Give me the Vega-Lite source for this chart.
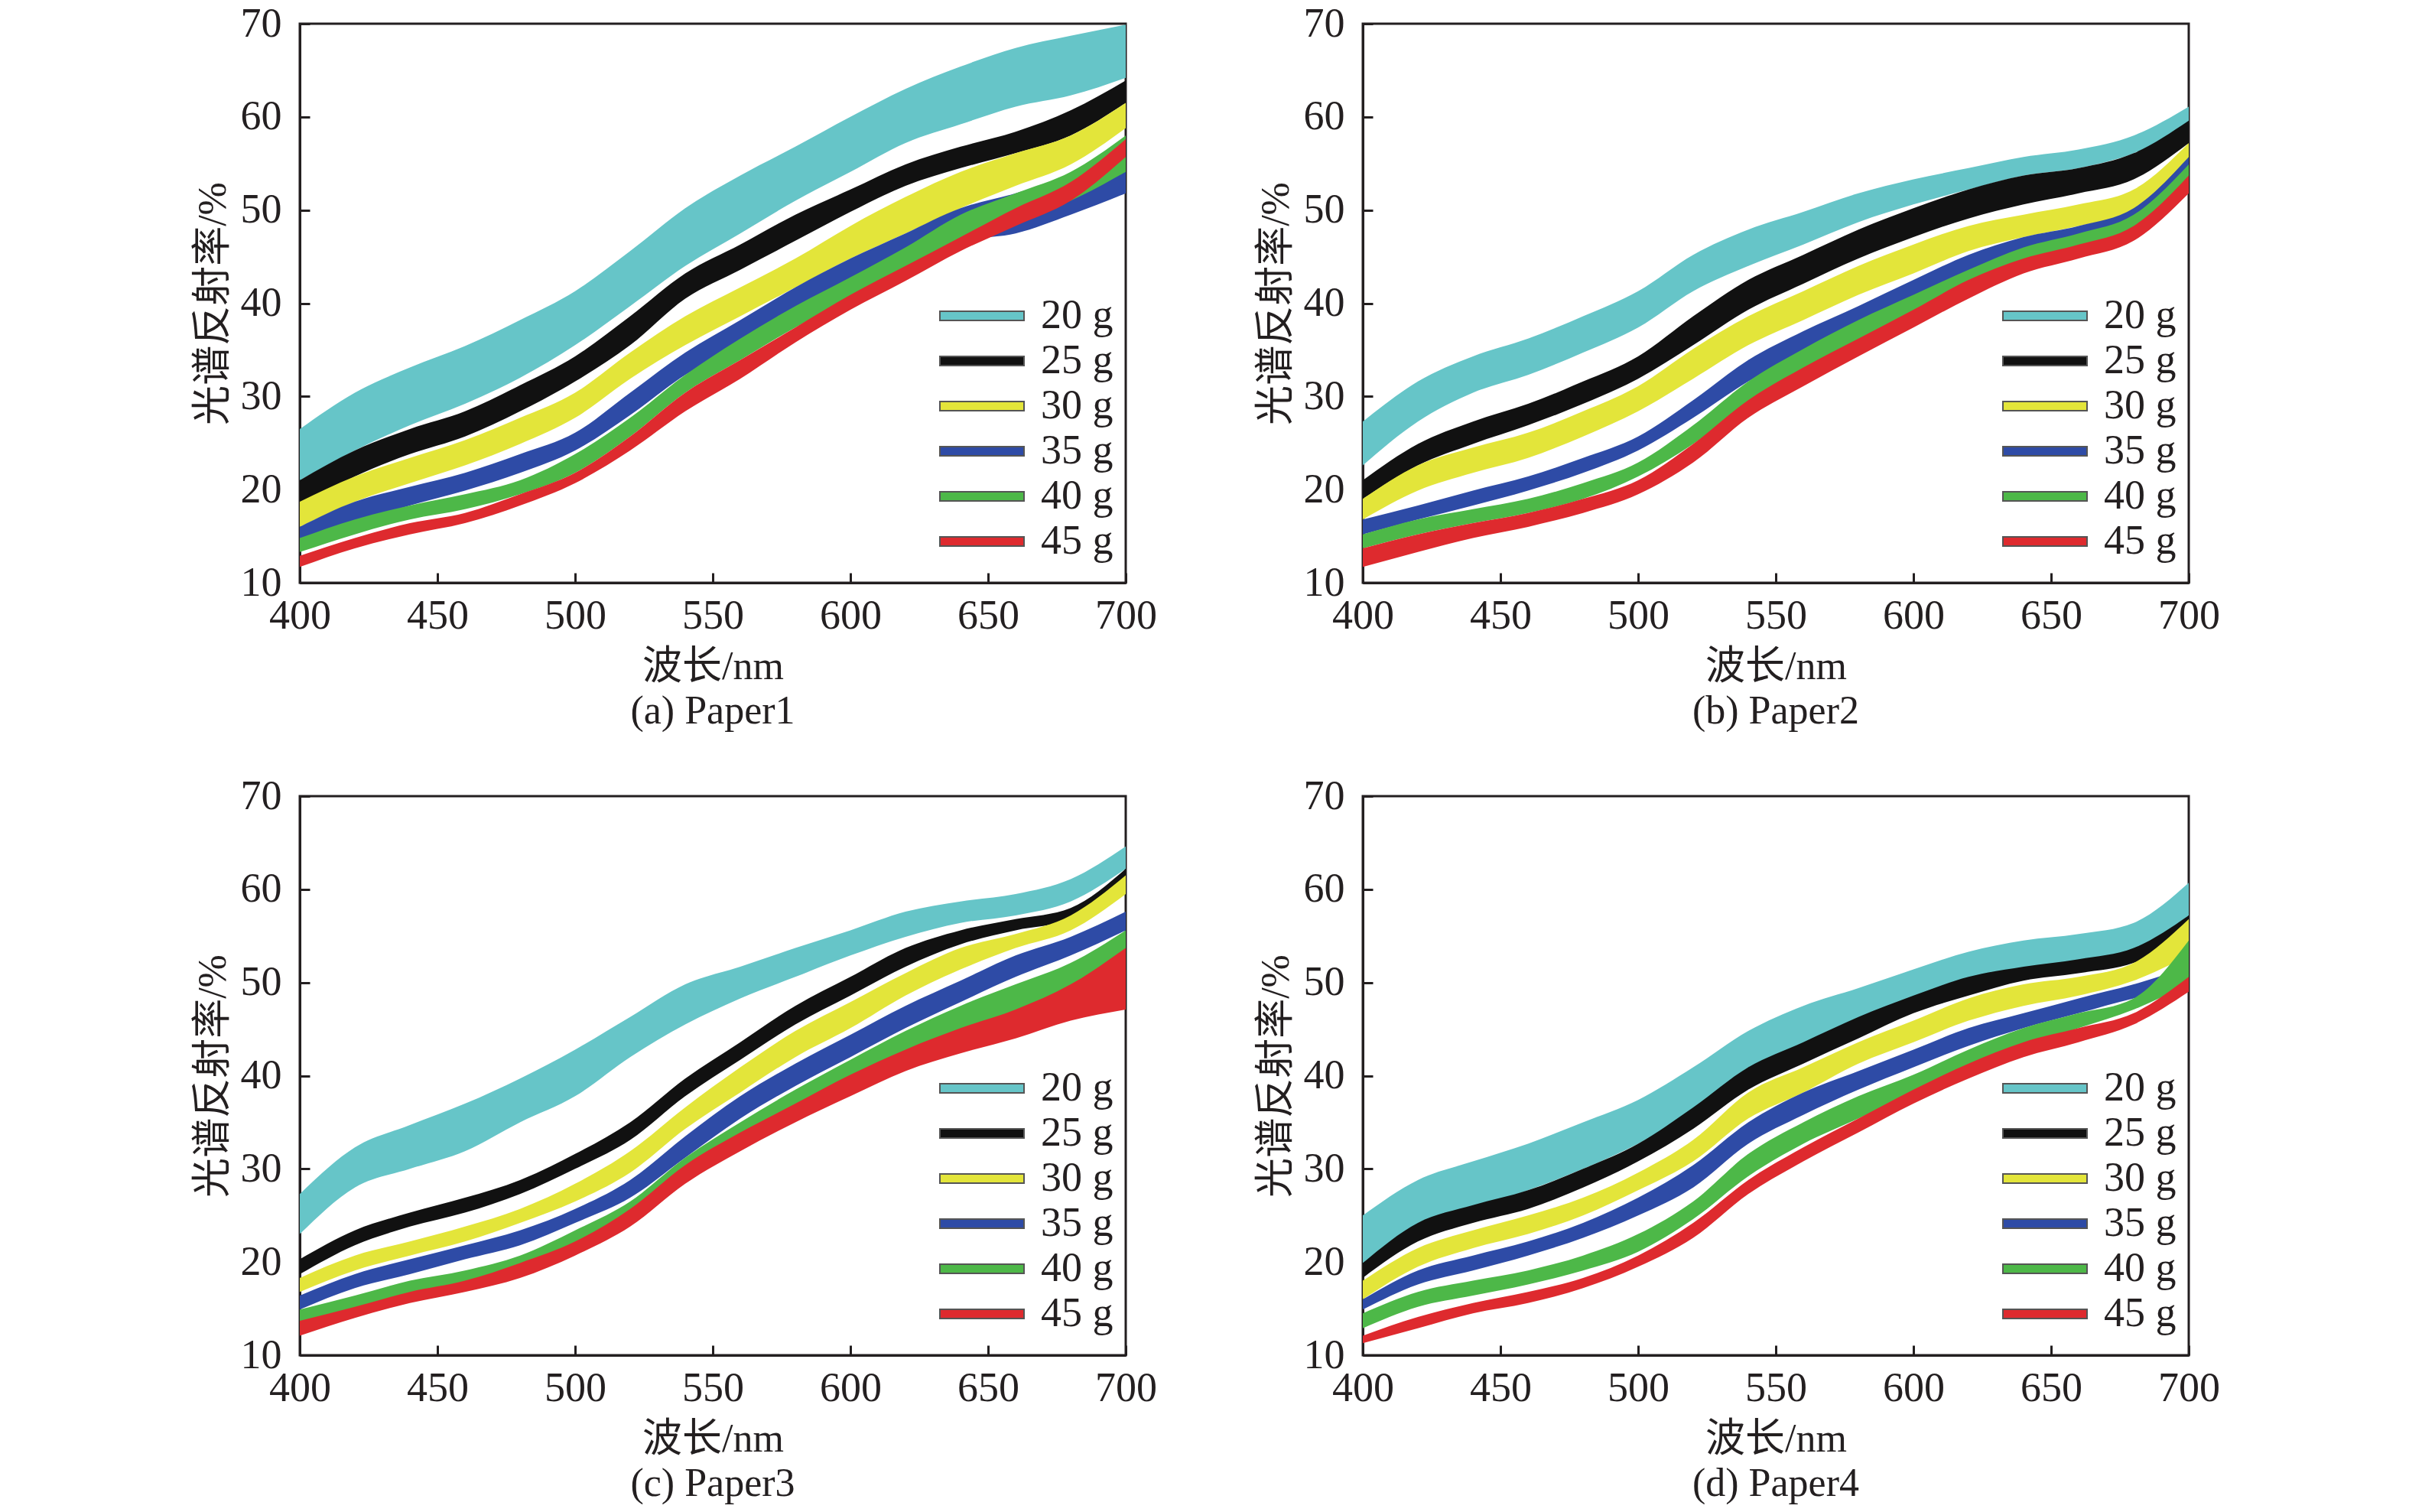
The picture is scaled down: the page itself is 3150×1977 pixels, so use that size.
{
  "$schema": "https://vega.github.io/schema/vega-lite/v6.json",
  "background": "white",
  "padding": {"left": 250, "top": 2, "right": 0, "bottom": 0},
  "datasets": {
    "bands": [
      {"p":"a","g":"20 g","x":400,"lo":21,"hi":26.5},{"p":"a","g":"20 g","x":420,"lo":24.2,"hi":30.4},{"p":"a","g":"20 g","x":440,"lo":26.9,"hi":33.1},{"p":"a","g":"20 g","x":460,"lo":29.2,"hi":35.4},{"p":"a","g":"20 g","x":480,"lo":32,"hi":38.2},{"p":"a","g":"20 g","x":500,"lo":35.5,"hi":41.3},{"p":"a","g":"20 g","x":520,"lo":39.7,"hi":45.6},{"p":"a","g":"20 g","x":540,"lo":44,"hi":50.2},{"p":"a","g":"20 g","x":560,"lo":47.5,"hi":53.7},{"p":"a","g":"20 g","x":580,"lo":51,"hi":56.8},{"p":"a","g":"20 g","x":600,"lo":54.1,"hi":60},{"p":"a","g":"20 g","x":620,"lo":57.2,"hi":63},{"p":"a","g":"20 g","x":640,"lo":59.2,"hi":65.4},{"p":"a","g":"20 g","x":660,"lo":61.1,"hi":67.4},{"p":"a","g":"20 g","x":680,"lo":62.3,"hi":68.7},{"p":"a","g":"20 g","x":700,"lo":64.2,"hi":69.9},
      {"p":"a","g":"25 g","x":400,"lo":18,"hi":21},{"p":"a","g":"25 g","x":420,"lo":21.4,"hi":24.2},{"p":"a","g":"25 g","x":440,"lo":23.8,"hi":26.5},{"p":"a","g":"25 g","x":460,"lo":25.7,"hi":28.4},{"p":"a","g":"25 g","x":480,"lo":28.4,"hi":31.2},{"p":"a","g":"25 g","x":500,"lo":31.6,"hi":34.3},{"p":"a","g":"25 g","x":520,"lo":35.5,"hi":38.6},{"p":"a","g":"25 g","x":540,"lo":40.5,"hi":43.2},{"p":"a","g":"25 g","x":560,"lo":43.6,"hi":46.3},{"p":"a","g":"25 g","x":580,"lo":46.7,"hi":49.5},{"p":"a","g":"25 g","x":600,"lo":49.8,"hi":52.2},{"p":"a","g":"25 g","x":620,"lo":52.6,"hi":54.9},{"p":"a","g":"25 g","x":640,"lo":54.5,"hi":56.8},{"p":"a","g":"25 g","x":660,"lo":56.1,"hi":58.4},{"p":"a","g":"25 g","x":680,"lo":58,"hi":60.7},{"p":"a","g":"25 g","x":700,"lo":61.5,"hi":63.9},
      {"p":"a","g":"30 g","x":400,"lo":16,"hi":18.7},{"p":"a","g":"30 g","x":420,"lo":18.7,"hi":21.4},{"p":"a","g":"30 g","x":440,"lo":20.7,"hi":23.4},{"p":"a","g":"30 g","x":460,"lo":22.6,"hi":25.3},{"p":"a","g":"30 g","x":480,"lo":24.9,"hi":27.7},{"p":"a","g":"30 g","x":500,"lo":27.7,"hi":30.4},{"p":"a","g":"30 g","x":520,"lo":31.9,"hi":34.7},{"p":"a","g":"30 g","x":540,"lo":35.5,"hi":38.6},{"p":"a","g":"30 g","x":560,"lo":38.6,"hi":41.7},{"p":"a","g":"30 g","x":580,"lo":41.7,"hi":44.8},{"p":"a","g":"30 g","x":600,"lo":44.8,"hi":48.3},{"p":"a","g":"30 g","x":620,"lo":47.5,"hi":51.4},{"p":"a","g":"30 g","x":640,"lo":50.2,"hi":54.1},{"p":"a","g":"30 g","x":660,"lo":52.6,"hi":56.1},{"p":"a","g":"30 g","x":680,"lo":54.9,"hi":58},{"p":"a","g":"30 g","x":700,"lo":58.8,"hi":61.5},
      {"p":"a","g":"35 g","x":400,"lo":14.4,"hi":16},{"p":"a","g":"35 g","x":420,"lo":16.4,"hi":18.7},{"p":"a","g":"35 g","x":440,"lo":18.3,"hi":20.3},{"p":"a","g":"35 g","x":460,"lo":19.9,"hi":21.8},{"p":"a","g":"35 g","x":480,"lo":21.8,"hi":23.8},{"p":"a","g":"35 g","x":500,"lo":24.2,"hi":26.1},{"p":"a","g":"35 g","x":520,"lo":28,"hi":30.4},{"p":"a","g":"35 g","x":540,"lo":32.3,"hi":34.7},{"p":"a","g":"35 g","x":560,"lo":35.5,"hi":38.2},{"p":"a","g":"35 g","x":580,"lo":39,"hi":41.7},{"p":"a","g":"35 g","x":600,"lo":42.1,"hi":44.8},{"p":"a","g":"35 g","x":620,"lo":44.8,"hi":47.5},{"p":"a","g":"35 g","x":640,"lo":46.7,"hi":50.2},{"p":"a","g":"35 g","x":660,"lo":47.5,"hi":51.8},{"p":"a","g":"35 g","x":680,"lo":49.5,"hi":53.7},{"p":"a","g":"35 g","x":700,"lo":51.8,"hi":56.8},
      {"p":"a","g":"40 g","x":400,"lo":13.3,"hi":14.8},{"p":"a","g":"40 g","x":420,"lo":15.2,"hi":16.8},{"p":"a","g":"40 g","x":440,"lo":16.8,"hi":18.3},{"p":"a","g":"40 g","x":460,"lo":17.9,"hi":19.5},{"p":"a","g":"40 g","x":480,"lo":19.5,"hi":21},{"p":"a","g":"40 g","x":500,"lo":21.8,"hi":23.8},{"p":"a","g":"40 g","x":520,"lo":25.7,"hi":27.7},{"p":"a","g":"40 g","x":540,"lo":30.4,"hi":32.3},{"p":"a","g":"40 g","x":560,"lo":33.9,"hi":36.2},{"p":"a","g":"40 g","x":580,"lo":37.4,"hi":39.7},{"p":"a","g":"40 g","x":600,"lo":40.5,"hi":42.8},{"p":"a","g":"40 g","x":620,"lo":43.2,"hi":46},{"p":"a","g":"40 g","x":640,"lo":46.3,"hi":49.5},{"p":"a","g":"40 g","x":660,"lo":48.7,"hi":51.8},{"p":"a","g":"40 g","x":680,"lo":51,"hi":54.1},{"p":"a","g":"40 g","x":700,"lo":54.1,"hi":58},
      {"p":"a","g":"45 g","x":400,"lo":11.7,"hi":12.9},{"p":"a","g":"45 g","x":420,"lo":13.7,"hi":14.8},{"p":"a","g":"45 g","x":440,"lo":15.2,"hi":16.4},{"p":"a","g":"45 g","x":460,"lo":16.4,"hi":17.5},{"p":"a","g":"45 g","x":480,"lo":18.3,"hi":19.5},{"p":"a","g":"45 g","x":500,"lo":20.7,"hi":21.8},{"p":"a","g":"45 g","x":520,"lo":24.2,"hi":25.7},{"p":"a","g":"45 g","x":540,"lo":28.4,"hi":30.4},{"p":"a","g":"45 g","x":560,"lo":31.9,"hi":33.9},{"p":"a","g":"45 g","x":580,"lo":35.8,"hi":37.4},{"p":"a","g":"45 g","x":600,"lo":39.3,"hi":40.9},{"p":"a","g":"45 g","x":620,"lo":42.4,"hi":44},{"p":"a","g":"45 g","x":640,"lo":45.6,"hi":47.1},{"p":"a","g":"45 g","x":660,"lo":48.3,"hi":50.2},{"p":"a","g":"45 g","x":680,"lo":51,"hi":53},{"p":"a","g":"45 g","x":700,"lo":55.7,"hi":57.6},

      {"p":"b","g":"20 g","x":400,"lo":22.6,"hi":27.3},{"p":"b","g":"20 g","x":420,"lo":27.3,"hi":31.6},{"p":"b","g":"20 g","x":440,"lo":30.4,"hi":34.3},{"p":"b","g":"20 g","x":460,"lo":32.3,"hi":36.2},{"p":"b","g":"20 g","x":480,"lo":34.7,"hi":38.6},{"p":"b","g":"20 g","x":500,"lo":37.4,"hi":41.3},{"p":"b","g":"20 g","x":520,"lo":41.3,"hi":45.2},{"p":"b","g":"20 g","x":540,"lo":44,"hi":47.9},{"p":"b","g":"20 g","x":560,"lo":46.3,"hi":49.8},{"p":"b","g":"20 g","x":580,"lo":48.7,"hi":51.8},{"p":"b","g":"20 g","x":600,"lo":50.6,"hi":53.3},{"p":"b","g":"20 g","x":620,"lo":52.2,"hi":54.5},{"p":"b","g":"20 g","x":640,"lo":53.7,"hi":55.7},{"p":"b","g":"20 g","x":660,"lo":54.5,"hi":56.5},{"p":"b","g":"20 g","x":680,"lo":56.1,"hi":58},{"p":"b","g":"20 g","x":700,"lo":59.2,"hi":61.1},
      {"p":"b","g":"25 g","x":400,"lo":19,"hi":21},{"p":"b","g":"25 g","x":420,"lo":22.6,"hi":24.9},{"p":"b","g":"25 g","x":440,"lo":24.9,"hi":27.3},{"p":"b","g":"25 g","x":460,"lo":26.9,"hi":29.2},{"p":"b","g":"25 g","x":480,"lo":29.2,"hi":31.6},{"p":"b","g":"25 g","x":500,"lo":31.9,"hi":34.3},{"p":"b","g":"25 g","x":520,"lo":35.5,"hi":38.6},{"p":"b","g":"25 g","x":540,"lo":39.3,"hi":42.5},{"p":"b","g":"25 g","x":560,"lo":42.1,"hi":45.2},{"p":"b","g":"25 g","x":580,"lo":44.8,"hi":47.9},{"p":"b","g":"25 g","x":600,"lo":47.1,"hi":50.2},{"p":"b","g":"25 g","x":620,"lo":49.1,"hi":52.2},{"p":"b","g":"25 g","x":640,"lo":50.6,"hi":53.7},{"p":"b","g":"25 g","x":660,"lo":51.8,"hi":54.5},{"p":"b","g":"25 g","x":680,"lo":53.3,"hi":56.1},{"p":"b","g":"25 g","x":700,"lo":57.2,"hi":59.6},
      {"p":"b","g":"30 g","x":400,"lo":16.8,"hi":19},{"p":"b","g":"30 g","x":420,"lo":19.9,"hi":22.6},{"p":"b","g":"30 g","x":440,"lo":21.8,"hi":24.5},{"p":"b","g":"30 g","x":460,"lo":23.4,"hi":26.1},{"p":"b","g":"30 g","x":480,"lo":25.7,"hi":28.4},{"p":"b","g":"30 g","x":500,"lo":28.4,"hi":31.1},{"p":"b","g":"30 g","x":520,"lo":31.9,"hi":35.1},{"p":"b","g":"30 g","x":540,"lo":35.5,"hi":38.6},{"p":"b","g":"30 g","x":560,"lo":38.2,"hi":41.3},{"p":"b","g":"30 g","x":580,"lo":40.9,"hi":44},{"p":"b","g":"30 g","x":600,"lo":43.2,"hi":46.3},{"p":"b","g":"30 g","x":620,"lo":45.6,"hi":48.3},{"p":"b","g":"30 g","x":640,"lo":47.1,"hi":49.5},{"p":"b","g":"30 g","x":660,"lo":48.3,"hi":50.6},{"p":"b","g":"30 g","x":680,"lo":49.8,"hi":52.2},{"p":"b","g":"30 g","x":700,"lo":54.1,"hi":57.2},
      {"p":"b","g":"35 g","x":400,"lo":15.2,"hi":16.8},{"p":"b","g":"35 g","x":420,"lo":16.8,"hi":18.3},{"p":"b","g":"35 g","x":440,"lo":18.3,"hi":19.9},{"p":"b","g":"35 g","x":460,"lo":19.9,"hi":21.4},{"p":"b","g":"35 g","x":480,"lo":21.8,"hi":23.4},{"p":"b","g":"35 g","x":500,"lo":24.2,"hi":25.7},{"p":"b","g":"35 g","x":520,"lo":27.7,"hi":29.6},{"p":"b","g":"35 g","x":540,"lo":31.6,"hi":33.9},{"p":"b","g":"35 g","x":560,"lo":34.7,"hi":37},{"p":"b","g":"35 g","x":580,"lo":37.8,"hi":39.7},{"p":"b","g":"35 g","x":600,"lo":40.5,"hi":42.5},{"p":"b","g":"35 g","x":620,"lo":43.2,"hi":45.2},{"p":"b","g":"35 g","x":640,"lo":45.6,"hi":47.1},{"p":"b","g":"35 g","x":660,"lo":46.7,"hi":48.3},{"p":"b","g":"35 g","x":680,"lo":48.7,"hi":50.2},{"p":"b","g":"35 g","x":700,"lo":53.7,"hi":55.7},
      {"p":"b","g":"40 g","x":400,"lo":13.7,"hi":15.2},{"p":"b","g":"40 g","x":420,"lo":15.2,"hi":16.8},{"p":"b","g":"40 g","x":440,"lo":16.4,"hi":17.9},{"p":"b","g":"40 g","x":460,"lo":17.5,"hi":19},{"p":"b","g":"40 g","x":480,"lo":19,"hi":20.7},{"p":"b","g":"40 g","x":500,"lo":21.4,"hi":22.9},{"p":"b","g":"40 g","x":520,"lo":24.9,"hi":26.9},{"p":"b","g":"40 g","x":540,"lo":29.2,"hi":31.6},{"p":"b","g":"40 g","x":560,"lo":32.7,"hi":35.1},{"p":"b","g":"40 g","x":580,"lo":35.8,"hi":38.2},{"p":"b","g":"40 g","x":600,"lo":39,"hi":40.9},{"p":"b","g":"40 g","x":620,"lo":41.7,"hi":43.6},{"p":"b","g":"40 g","x":640,"lo":44.4,"hi":46},{"p":"b","g":"40 g","x":660,"lo":46,"hi":47.5},{"p":"b","g":"40 g","x":680,"lo":47.9,"hi":49.5},{"p":"b","g":"40 g","x":700,"lo":53,"hi":54.9},
      {"p":"b","g":"45 g","x":400,"lo":11.7,"hi":13.7},{"p":"b","g":"45 g","x":420,"lo":13.3,"hi":15.2},{"p":"b","g":"45 g","x":440,"lo":14.8,"hi":16.4},{"p":"b","g":"45 g","x":460,"lo":16,"hi":17.5},{"p":"b","g":"45 g","x":480,"lo":17.5,"hi":19},{"p":"b","g":"45 g","x":500,"lo":19.5,"hi":21},{"p":"b","g":"45 g","x":520,"lo":22.9,"hi":24.9},{"p":"b","g":"45 g","x":540,"lo":27.7,"hi":29.6},{"p":"b","g":"45 g","x":560,"lo":31.1,"hi":33.1},{"p":"b","g":"45 g","x":580,"lo":34.3,"hi":36.2},{"p":"b","g":"45 g","x":600,"lo":37.4,"hi":39.3},{"p":"b","g":"45 g","x":620,"lo":40.5,"hi":42.5},{"p":"b","g":"45 g","x":640,"lo":43.2,"hi":44.8},{"p":"b","g":"45 g","x":660,"lo":44.8,"hi":46.3},{"p":"b","g":"45 g","x":680,"lo":46.7,"hi":48.3},{"p":"b","g":"45 g","x":700,"lo":51.8,"hi":53.7},

      {"p":"c","g":"20 g","x":400,"lo":23,"hi":27.3},{"p":"c","g":"20 g","x":420,"lo":28,"hi":32.3},{"p":"c","g":"20 g","x":440,"lo":30,"hi":34.7},{"p":"c","g":"20 g","x":460,"lo":31.9,"hi":37},{"p":"c","g":"20 g","x":480,"lo":35,"hi":39.7},{"p":"c","g":"20 g","x":500,"lo":37.8,"hi":42.8},{"p":"c","g":"20 g","x":520,"lo":42,"hi":46.3},{"p":"c","g":"20 g","x":540,"lo":45.5,"hi":49.8},{"p":"c","g":"20 g","x":560,"lo":48.3,"hi":51.7},{"p":"c","g":"20 g","x":580,"lo":50.6,"hi":53.7},{"p":"c","g":"20 g","x":600,"lo":52.9,"hi":55.6},{"p":"c","g":"20 g","x":620,"lo":54.9,"hi":57.6},{"p":"c","g":"20 g","x":640,"lo":56.4,"hi":58.7},{"p":"c","g":"20 g","x":660,"lo":57.2,"hi":59.5},{"p":"c","g":"20 g","x":680,"lo":58.7,"hi":61.1},{"p":"c","g":"20 g","x":700,"lo":62.2,"hi":64.6},
      {"p":"c","g":"25 g","x":400,"lo":18.7,"hi":20.3},{"p":"c","g":"25 g","x":420,"lo":21.8,"hi":23.4},{"p":"c","g":"25 g","x":440,"lo":23.8,"hi":25.3},{"p":"c","g":"25 g","x":460,"lo":25.3,"hi":26.9},{"p":"c","g":"25 g","x":480,"lo":27.3,"hi":28.8},{"p":"c","g":"25 g","x":500,"lo":30,"hi":31.6},{"p":"c","g":"25 g","x":520,"lo":33.1,"hi":35},{"p":"c","g":"25 g","x":540,"lo":37.8,"hi":39.7},{"p":"c","g":"25 g","x":560,"lo":41.7,"hi":43.6},{"p":"c","g":"25 g","x":580,"lo":45.5,"hi":47.5},{"p":"c","g":"25 g","x":600,"lo":48.6,"hi":50.6},{"p":"c","g":"25 g","x":620,"lo":51.7,"hi":53.7},{"p":"c","g":"25 g","x":640,"lo":54.1,"hi":55.6},{"p":"c","g":"25 g","x":660,"lo":55.6,"hi":56.8},{"p":"c","g":"25 g","x":680,"lo":56.8,"hi":58},{"p":"c","g":"25 g","x":700,"lo":60.7,"hi":62.2},
      {"p":"c","g":"30 g","x":400,"lo":16.8,"hi":18.3},{"p":"c","g":"30 g","x":420,"lo":19.1,"hi":20.7},{"p":"c","g":"30 g","x":440,"lo":20.7,"hi":22.2},{"p":"c","g":"30 g","x":460,"lo":22.2,"hi":23.8},{"p":"c","g":"30 g","x":480,"lo":24.2,"hi":25.7},{"p":"c","g":"30 g","x":500,"lo":26.5,"hi":28.4},{"p":"c","g":"30 g","x":520,"lo":29.6,"hi":31.9},{"p":"c","g":"30 g","x":540,"lo":34.3,"hi":36.6},{"p":"c","g":"30 g","x":560,"lo":38.2,"hi":40.9},{"p":"c","g":"30 g","x":580,"lo":42,"hi":44.8},{"p":"c","g":"30 g","x":600,"lo":45.1,"hi":47.9},{"p":"c","g":"30 g","x":620,"lo":48.6,"hi":51},{"p":"c","g":"30 g","x":640,"lo":51.4,"hi":53.7},{"p":"c","g":"30 g","x":660,"lo":53.7,"hi":55.2},{"p":"c","g":"30 g","x":680,"lo":55.6,"hi":57.2},{"p":"c","g":"30 g","x":700,"lo":59.5,"hi":61.5},
      {"p":"c","g":"35 g","x":400,"lo":14.9,"hi":16.4},{"p":"c","g":"35 g","x":420,"lo":17.2,"hi":18.7},{"p":"c","g":"35 g","x":440,"lo":18.7,"hi":20.3},{"p":"c","g":"35 g","x":460,"lo":20.3,"hi":21.8},{"p":"c","g":"35 g","x":480,"lo":21.8,"hi":23.4},{"p":"c","g":"35 g","x":500,"lo":24.2,"hi":25.7},{"p":"c","g":"35 g","x":520,"lo":26.9,"hi":28.8},{"p":"c","g":"35 g","x":540,"lo":31.2,"hi":33.5},{"p":"c","g":"35 g","x":560,"lo":35.4,"hi":37.8},{"p":"c","g":"35 g","x":580,"lo":38.9,"hi":41.3},{"p":"c","g":"35 g","x":600,"lo":42,"hi":44.4},{"p":"c","g":"35 g","x":620,"lo":45.1,"hi":47.5},{"p":"c","g":"35 g","x":640,"lo":47.9,"hi":50.2},{"p":"c","g":"35 g","x":660,"lo":50.6,"hi":52.9},{"p":"c","g":"35 g","x":680,"lo":52.9,"hi":54.9},{"p":"c","g":"35 g","x":700,"lo":55.6,"hi":57.6},
      {"p":"c","g":"40 g","x":400,"lo":13.3,"hi":14.9},{"p":"c","g":"40 g","x":420,"lo":14.9,"hi":16.4},{"p":"c","g":"40 g","x":440,"lo":16.4,"hi":18},{"p":"c","g":"40 g","x":460,"lo":17.6,"hi":19.1},{"p":"c","g":"40 g","x":480,"lo":19.1,"hi":20.7},{"p":"c","g":"40 g","x":500,"lo":21.5,"hi":23.4},{"p":"c","g":"40 g","x":520,"lo":24.6,"hi":26.5},{"p":"c","g":"40 g","x":540,"lo":28.8,"hi":31.2},{"p":"c","g":"40 g","x":560,"lo":32.3,"hi":35},{"p":"c","g":"40 g","x":580,"lo":35.4,"hi":38.5},{"p":"c","g":"40 g","x":600,"lo":38.5,"hi":41.7},{"p":"c","g":"40 g","x":620,"lo":41.7,"hi":44.8},{"p":"c","g":"40 g","x":640,"lo":44.4,"hi":47.5},{"p":"c","g":"40 g","x":660,"lo":46.7,"hi":49.8},{"p":"c","g":"40 g","x":680,"lo":49,"hi":52.1},{"p":"c","g":"40 g","x":700,"lo":52.1,"hi":55.6},
      {"p":"c","g":"45 g","x":400,"lo":12.1,"hi":13.7},{"p":"c","g":"45 g","x":420,"lo":14,"hi":15.2},{"p":"c","g":"45 g","x":440,"lo":15.6,"hi":16.8},{"p":"c","g":"45 g","x":460,"lo":16.8,"hi":18},{"p":"c","g":"45 g","x":480,"lo":18.3,"hi":19.9},{"p":"c","g":"45 g","x":500,"lo":20.7,"hi":22.2},{"p":"c","g":"45 g","x":520,"lo":23.8,"hi":25.7},{"p":"c","g":"45 g","x":540,"lo":28.4,"hi":30.4},{"p":"c","g":"45 g","x":560,"lo":31.9,"hi":33.9},{"p":"c","g":"45 g","x":580,"lo":35,"hi":37},{"p":"c","g":"45 g","x":600,"lo":37.8,"hi":40.1},{"p":"c","g":"45 g","x":620,"lo":40.5,"hi":42.8},{"p":"c","g":"45 g","x":640,"lo":42.4,"hi":45.1},{"p":"c","g":"45 g","x":660,"lo":44,"hi":47.1},{"p":"c","g":"45 g","x":680,"lo":45.9,"hi":49.8},{"p":"c","g":"45 g","x":700,"lo":47.1,"hi":53.7},

      {"p":"d","g":"20 g","x":400,"lo":19.9,"hi":25},{"p":"d","g":"20 g","x":420,"lo":23.4,"hi":28.8},{"p":"d","g":"20 g","x":440,"lo":25.7,"hi":30.8},{"p":"d","g":"20 g","x":460,"lo":27.7,"hi":32.7},{"p":"d","g":"20 g","x":480,"lo":30,"hi":35},{"p":"d","g":"20 g","x":500,"lo":32.7,"hi":37.4},{"p":"d","g":"20 g","x":520,"lo":36.2,"hi":40.9},{"p":"d","g":"20 g","x":540,"lo":40.1,"hi":44.8},{"p":"d","g":"20 g","x":560,"lo":43.2,"hi":47.5},{"p":"d","g":"20 g","x":580,"lo":45.5,"hi":49.4},{"p":"d","g":"20 g","x":600,"lo":47.5,"hi":51.4},{"p":"d","g":"20 g","x":620,"lo":49.4,"hi":53.3},{"p":"d","g":"20 g","x":640,"lo":51,"hi":54.5},{"p":"d","g":"20 g","x":660,"lo":51.7,"hi":55.2},{"p":"d","g":"20 g","x":680,"lo":53.3,"hi":56.4},{"p":"d","g":"20 g","x":700,"lo":57.2,"hi":60.7},
      {"p":"d","g":"25 g","x":400,"lo":18.3,"hi":19.9},{"p":"d","g":"25 g","x":420,"lo":22.2,"hi":24.2},{"p":"d","g":"25 g","x":440,"lo":24.2,"hi":26.1},{"p":"d","g":"25 g","x":460,"lo":25.7,"hi":27.7},{"p":"d","g":"25 g","x":480,"lo":28,"hi":30},{"p":"d","g":"25 g","x":500,"lo":30.8,"hi":32.7},{"p":"d","g":"25 g","x":520,"lo":34.3,"hi":36.6},{"p":"d","g":"25 g","x":540,"lo":38.5,"hi":40.9},{"p":"d","g":"25 g","x":560,"lo":41.3,"hi":43.6},{"p":"d","g":"25 g","x":580,"lo":44,"hi":46.3},{"p":"d","g":"25 g","x":600,"lo":46.7,"hi":48.6},{"p":"d","g":"25 g","x":620,"lo":48.6,"hi":50.6},{"p":"d","g":"25 g","x":640,"lo":50.2,"hi":51.7},{"p":"d","g":"25 g","x":660,"lo":51,"hi":52.5},{"p":"d","g":"25 g","x":680,"lo":52.1,"hi":53.7},{"p":"d","g":"25 g","x":700,"lo":55.2,"hi":57.2},
      {"p":"d","g":"30 g","x":400,"lo":16,"hi":18},{"p":"d","g":"30 g","x":420,"lo":19.5,"hi":21.5},{"p":"d","g":"30 g","x":440,"lo":21.5,"hi":23.4},{"p":"d","g":"30 g","x":460,"lo":23,"hi":25},{"p":"d","g":"30 g","x":480,"lo":25,"hi":26.9},{"p":"d","g":"30 g","x":500,"lo":27.7,"hi":29.6},{"p":"d","g":"30 g","x":520,"lo":30.8,"hi":33.1},{"p":"d","g":"30 g","x":540,"lo":35.4,"hi":38.2},{"p":"d","g":"30 g","x":560,"lo":38.2,"hi":40.9},{"p":"d","g":"30 g","x":580,"lo":41.3,"hi":43.6},{"p":"d","g":"30 g","x":600,"lo":43.6,"hi":45.9},{"p":"d","g":"30 g","x":620,"lo":45.9,"hi":48.3},{"p":"d","g":"30 g","x":640,"lo":47.5,"hi":49.8},{"p":"d","g":"30 g","x":660,"lo":48.6,"hi":50.6},{"p":"d","g":"30 g","x":680,"lo":50.2,"hi":52.1},{"p":"d","g":"30 g","x":700,"lo":52.9,"hi":56.8},
      {"p":"d","g":"35 g","x":400,"lo":14.9,"hi":16},{"p":"d","g":"35 g","x":420,"lo":17.6,"hi":19.1},{"p":"d","g":"35 g","x":440,"lo":19.1,"hi":20.7},{"p":"d","g":"35 g","x":460,"lo":20.7,"hi":22.2},{"p":"d","g":"35 g","x":480,"lo":22.6,"hi":24.2},{"p":"d","g":"35 g","x":500,"lo":25,"hi":26.9},{"p":"d","g":"35 g","x":520,"lo":28,"hi":30.4},{"p":"d","g":"35 g","x":540,"lo":32.7,"hi":35},{"p":"d","g":"35 g","x":560,"lo":35.8,"hi":38.2},{"p":"d","g":"35 g","x":580,"lo":38.5,"hi":40.5},{"p":"d","g":"35 g","x":600,"lo":40.9,"hi":42.8},{"p":"d","g":"35 g","x":620,"lo":43.2,"hi":45.1},{"p":"d","g":"35 g","x":640,"lo":45.1,"hi":46.7},{"p":"d","g":"35 g","x":660,"lo":46.7,"hi":48.3},{"p":"d","g":"35 g","x":680,"lo":48.3,"hi":49.8},{"p":"d","g":"35 g","x":700,"lo":49.4,"hi":51.7},
      {"p":"d","g":"40 g","x":400,"lo":12.9,"hi":14.5},{"p":"d","g":"40 g","x":420,"lo":15.2,"hi":16.8},{"p":"d","g":"40 g","x":440,"lo":16.4,"hi":18},{"p":"d","g":"40 g","x":460,"lo":17.6,"hi":19.1},{"p":"d","g":"40 g","x":480,"lo":19.1,"hi":20.7},{"p":"d","g":"40 g","x":500,"lo":21.1,"hi":23},{"p":"d","g":"40 g","x":520,"lo":24.6,"hi":26.5},{"p":"d","g":"40 g","x":540,"lo":29.2,"hi":31.6},{"p":"d","g":"40 g","x":560,"lo":32.7,"hi":35},{"p":"d","g":"40 g","x":580,"lo":35.4,"hi":37.8},{"p":"d","g":"40 g","x":600,"lo":38.2,"hi":40.1},{"p":"d","g":"40 g","x":620,"lo":40.9,"hi":42.8},{"p":"d","g":"40 g","x":640,"lo":43.2,"hi":45.1},{"p":"d","g":"40 g","x":660,"lo":45.1,"hi":46.7},{"p":"d","g":"40 g","x":680,"lo":47.1,"hi":48.3},{"p":"d","g":"40 g","x":700,"lo":49.8,"hi":54.5},
      {"p":"d","g":"45 g","x":400,"lo":11.3,"hi":12.1},{"p":"d","g":"45 g","x":420,"lo":12.9,"hi":14.1},{"p":"d","g":"45 g","x":440,"lo":14.5,"hi":15.6},{"p":"d","g":"45 g","x":460,"lo":15.6,"hi":16.8},{"p":"d","g":"45 g","x":480,"lo":17.2,"hi":18.3},{"p":"d","g":"45 g","x":500,"lo":19.5,"hi":20.7},{"p":"d","g":"45 g","x":520,"lo":22.6,"hi":24.2},{"p":"d","g":"45 g","x":540,"lo":27.3,"hi":28.8},{"p":"d","g":"45 g","x":560,"lo":30.8,"hi":32.3},{"p":"d","g":"45 g","x":580,"lo":33.9,"hi":35.4},{"p":"d","g":"45 g","x":600,"lo":37,"hi":38.5},{"p":"d","g":"45 g","x":620,"lo":39.7,"hi":41.3},{"p":"d","g":"45 g","x":640,"lo":42,"hi":43.6},{"p":"d","g":"45 g","x":660,"lo":43.6,"hi":45.1},{"p":"d","g":"45 g","x":680,"lo":45.5,"hi":46.7},{"p":"d","g":"45 g","x":700,"lo":49,"hi":50.6}
    ]
  },
  "columns": 2,
  "spacing": {"column": 126, "row": 54},
  "resolve": {"scale": {"color": "independent"}, "legend": {"color": "independent"}},
  "concat": [
    {
      "width": 1080, "height": 731,
      "data": {"name": "bands"},
      "transform": [{"filter": "datum.p === 'a'"}],
      "title": {"text": "(a) Paper1"},
      "mark": {"type": "area", "interpolate": "monotone"},
      "encoding": {
        "x": {"field": "x", "type": "quantitative", "scale": {"domain": [400, 700], "nice": false}, "axis": {"values": [400, 450, 500, 550, 600, 650, 700], "title": "波长/nm"}},
        "y": {"field": "hi", "type": "quantitative", "scale": {"domain": [10, 70], "nice": false, "zero": false}, "axis": {"values": [10, 20, 30, 40, 50, 60, 70], "title": "光谱反射率/%"}},
        "y2": {"field": "lo"},
        "color": {"field": "g", "type": "nominal", "scale": {"domain": ["20 g", "25 g", "30 g", "35 g", "40 g", "45 g"], "range": ["#66c5c8", "#111111", "#e3e53a", "#2e4ba6", "#4db848", "#de2a2e"]}, "legend": {"title": null}}
      }
    },
    {
      "width": 1080, "height": 731,
      "data": {"name": "bands"},
      "transform": [{"filter": "datum.p === 'b'"}],
      "title": {"text": "(b) Paper2"},
      "mark": {"type": "area", "interpolate": "monotone"},
      "encoding": {
        "x": {"field": "x", "type": "quantitative", "scale": {"domain": [400, 700], "nice": false}, "axis": {"values": [400, 450, 500, 550, 600, 650, 700], "title": "波长/nm"}},
        "y": {"field": "hi", "type": "quantitative", "scale": {"domain": [10, 70], "nice": false, "zero": false}, "axis": {"values": [10, 20, 30, 40, 50, 60, 70], "title": "光谱反射率/%"}},
        "y2": {"field": "lo"},
        "color": {"field": "g", "type": "nominal", "scale": {"domain": ["20 g", "25 g", "30 g", "35 g", "40 g", "45 g"], "range": ["#66c5c8", "#111111", "#e3e53a", "#2e4ba6", "#4db848", "#de2a2e"]}, "legend": {"title": null}}
      }
    },
    {
      "width": 1080, "height": 731,
      "data": {"name": "bands"},
      "transform": [{"filter": "datum.p === 'c'"}],
      "title": {"text": "(c) Paper3"},
      "mark": {"type": "area", "interpolate": "monotone"},
      "encoding": {
        "x": {"field": "x", "type": "quantitative", "scale": {"domain": [400, 700], "nice": false}, "axis": {"values": [400, 450, 500, 550, 600, 650, 700], "title": "波长/nm"}},
        "y": {"field": "hi", "type": "quantitative", "scale": {"domain": [10, 70], "nice": false, "zero": false}, "axis": {"values": [10, 20, 30, 40, 50, 60, 70], "title": "光谱反射率/%"}},
        "y2": {"field": "lo"},
        "color": {"field": "g", "type": "nominal", "scale": {"domain": ["20 g", "25 g", "30 g", "35 g", "40 g", "45 g"], "range": ["#66c5c8", "#111111", "#e3e53a", "#2e4ba6", "#4db848", "#de2a2e"]}, "legend": {"title": null}}
      }
    },
    {
      "width": 1080, "height": 731,
      "data": {"name": "bands"},
      "transform": [{"filter": "datum.p === 'd'"}],
      "title": {"text": "(d) Paper4"},
      "mark": {"type": "area", "interpolate": "monotone"},
      "encoding": {
        "x": {"field": "x", "type": "quantitative", "scale": {"domain": [400, 700], "nice": false}, "axis": {"values": [400, 450, 500, 550, 600, 650, 700], "title": "波长/nm"}},
        "y": {"field": "hi", "type": "quantitative", "scale": {"domain": [10, 70], "nice": false, "zero": false}, "axis": {"values": [10, 20, 30, 40, 50, 60, 70], "title": "光谱反射率/%"}},
        "y2": {"field": "lo"},
        "color": {"field": "g", "type": "nominal", "scale": {"domain": ["20 g", "25 g", "30 g", "35 g", "40 g", "45 g"], "range": ["#66c5c8", "#111111", "#e3e53a", "#2e4ba6", "#4db848", "#de2a2e"]}, "legend": {"title": null}}
      }
    }
  ],
  "config": {
    "font": "Liberation Serif",
    "view": {"stroke": "#231f20", "strokeWidth": 3},
    "axis": {
      "grid": false,
      "domainColor": "#231f20", "domainWidth": 3,
      "tickColor": "#231f20", "tickWidth": 3, "tickSize": -13,
      "labelFont": "Liberation Serif", "labelFontSize": 54, "labelColor": "#231f20",
      "labelFlush": false, "labelOverlap": false, "labelBound": false,
      "titleFont": "Liberation Serif, Noto Sans CJK SC", "titleFontSize": 52, "titleFontWeight": "normal", "titleColor": "#231f20"
    },
    "axisX": {"labelPadding": 29, "titlePadding": 14},
    "axisY": {"labelPadding": 37, "titlePadding": 9},
    "legend": {
      "orient": "none", "legendX": 865, "legendY": 355, "padding": 0,
      "symbolType": "M-2.2,-0.24H2.2V0.24H-2.2Z", "symbolSize": 2500,
      "symbolStrokeColor": "#555555", "symbolStrokeWidth": 2, "symbolOpacity": 1,
      "labelFont": "Liberation Serif", "labelFontSize": 54, "labelColor": "#231f20",
      "labelOffset": 50, "rowPadding": 5
    },
    "title": {"orient": "bottom", "frame": "group", "anchor": "middle", "offset": 8, "font": "Liberation Serif", "fontSize": 52, "fontWeight": "normal", "color": "#231f20"}
  }
}
